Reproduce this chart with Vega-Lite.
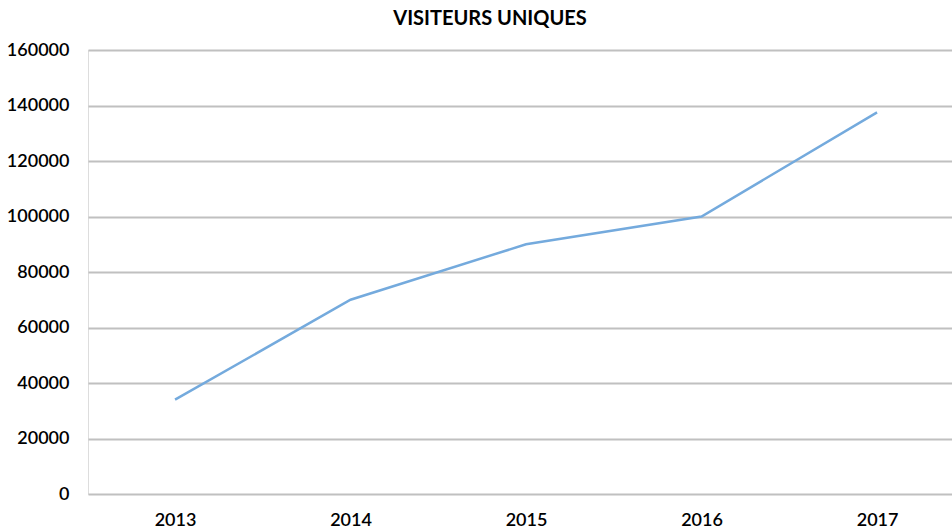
{
  "$schema": "https://vega.github.io/schema/vega-lite/v6.json",
  "autosize": "none",
  "width": 864,
  "height": 444,
  "padding": {"left": 88, "top": 50, "right": 0, "bottom": 36},
  "background": "white",
  "title": {
    "text": "VISITEURS UNIQUES",
    "font": "Lato",
    "fontSize": 20,
    "fontWeight": "bold",
    "color": "#000000",
    "anchor": "middle",
    "dx": -30,
    "offset": 12
  },
  "data": {
    "values": [
      {"year": 2013, "visiteurs": 34000},
      {"year": 2014, "visiteurs": 70000},
      {"year": 2015, "visiteurs": 90000},
      {"year": 2016, "visiteurs": 100000},
      {"year": 2017, "visiteurs": 137500}
    ]
  },
  "mark": {"type": "line", "color": "#74aadd", "strokeWidth": 2.5},
  "encoding": {
    "x": {
      "field": "year",
      "type": "quantitative",
      "scale": {"domain": [2012.504, 2017.427], "nice": false, "zero": false},
      "axis": {
        "title": null,
        "values": [2013, 2014, 2015, 2016, 2017],
        "format": "d",
        "grid": false,
        "domain": false,
        "ticks": false,
        "labelFont": "Lato",
        "labelFontSize": 18,
        "labelFontWeight": 600,
        "labelColor": "#000000",
        "labelPadding": 17,
        "labelFlush": false
      }
    },
    "y": {
      "field": "visiteurs",
      "type": "quantitative",
      "scale": {"domain": [0, 160000], "nice": false},
      "axis": {
        "title": null,
        "values": [0, 20000, 40000, 60000, 80000, 100000, 120000, 140000, 160000],
        "format": "d",
        "domain": false,
        "ticks": false,
        "grid": true,
        "gridColor": "#c0c0c0",
        "gridWidth": 2,
        "labelFont": "Lato",
        "labelFontSize": 18,
        "labelFontWeight": 600,
        "labelColor": "#000000",
        "labelPadding": 19
      }
    }
  }
}
